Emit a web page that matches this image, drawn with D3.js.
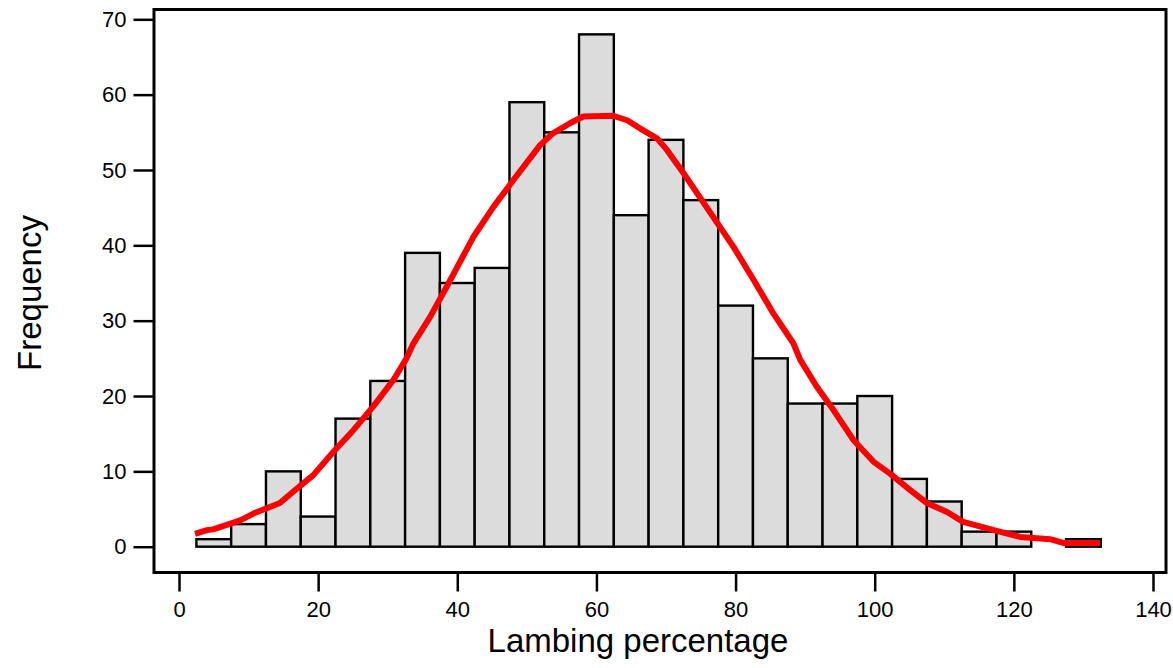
<!DOCTYPE html>
<html>
<head>
<meta charset="utf-8">
<script src="https://cdn.jsdelivr.net/npm/d3@7"></script>
<style>
    body { margin: 0; background: #fff; }
    svg { display: block; font-family: Arial, "Liberation Sans", sans-serif; }
    .axis text { font-size: 22px; fill: #000; }
    .axis line { stroke: #000; stroke-width: 2.5px; }
    .axis .domain { display: none; }
    .bar { fill: #dcdcdc; stroke: #000; stroke-width: 2.4px; }
    .fit { fill: none; stroke: #ff0000; stroke-width: 6px; stroke-linejoin: round; }
    .frame { fill: none; stroke: #000; stroke-width: 3px; }
    .title { font-size: 33px; fill: #000; }
</style>
</head>
<body>
<div id="chart"></div>
<script>
// histogram bins (centres, width 5)
const binCentres = [5, 10, 15, 20, 25, 30, 35, 40, 45, 50, 55, 60, 65,
    70, 75, 80, 85, 90, 95, 100, 105, 110, 115, 120, 125, 130];
const frequencies = [1, 3, 10, 4, 17, 22, 39, 35, 37, 59, 55, 68, 44,
    54, 46, 32, 25, 19, 19, 20, 9, 6, 2, 2, 0, 1];
const binWidth = 5;

// fitted curve
const curveX = [2.3, 4.0, 4.9, 8.8, 10.7, 12.6, 14.5, 16.4, 19.3, 22.2, 25.1, 27.9,
    30.8, 32.7, 33.7, 36.1, 39.0, 42.3, 45.2, 48.1, 51.9, 53.8, 56.2, 58.1,
    62.4, 64.4, 66.3, 68.7, 70.1, 72.5, 75.8, 79.7, 82.6, 85.4, 88.3, 89.3,
    91.7, 94.1, 96.9, 99.8, 102.2, 105.1, 107.5, 110.4, 112.7, 117.1, 120.9,
    125.2, 127.1, 132.4];
const curveY = [1.7, 2.2, 2.3, 3.5, 4.4, 5.1, 5.8, 7.3, 9.5, 12.6, 15.5, 18.6,
    22.1, 25.0, 27.0, 30.5, 35.4, 41.1, 45.1, 48.7, 53.3, 54.9, 56.2, 57.1,
    57.2, 56.6, 55.5, 54.2, 52.7, 49.6, 45.1, 39.8, 35.4, 31.0, 27.0, 24.8,
    21.2, 18.1, 14.2, 11.3, 9.7, 7.5, 5.8, 4.6, 3.3, 2.2, 1.3,
    1.0, 0.5, 0.5];

const xTicks = [0, 20, 40, 60, 80, 100, 120, 140];
const yTicks = [0, 10, 20, 30, 40, 50, 60, 70];

const width = 1173;
const height = 668;

const frame = { left: 154, top: 9.5, right: 1166, bottom: 572.5 };

const svg = d3.select('#chart').append('svg')
    .attr('width', width)
    .attr('height', height);

const x = d3.scaleLinear()
    .domain([0, 140])
    .range([179, 1153]);

const y = d3.scaleLinear()
    .domain([0, 70])
    .range([546.7, 19.3]);

// bars
svg.append('g')
    .selectAll('rect')
    .data(binCentres.map((c, i) => ({ c: c, v: frequencies[i] })))
    .enter()
    .append('rect')
    .attr('class', 'bar')
    .attr('x', d => x(d.c - binWidth / 2))
    .attr('width', x(binWidth) - x(0))
    .attr('y', d => y(d.v))
    .attr('height', d => y(0) - y(d.v));

// fitted line
const line = d3.line()
    .x(d => x(d[0]))
    .y(d => y(d[1]));

svg.append('path')
    .attr('class', 'fit')
    .attr('d', line(curveX.map((v, i) => [v, curveY[i]])));

// frame
svg.append('rect')
    .attr('class', 'frame')
    .attr('x', frame.left)
    .attr('y', frame.top)
    .attr('width', frame.right - frame.left)
    .attr('height', frame.bottom - frame.top);

// axes, ticks outside the frame
svg.append('g')
    .attr('class', 'x axis')
    .attr('transform', `translate(0, ${frame.bottom})`)
    .call(d3.axisBottom(x).tickValues(xTicks).tickSize(19).tickPadding(10));

svg.append('g')
    .attr('class', 'y axis')
    .attr('transform', `translate(${frame.left - 0.5}, 0)`)
    .call(d3.axisLeft(y).tickValues(yTicks).tickSize(20).tickPadding(7));

svg.append('text')
    .attr('class', 'title')
    .attr('text-anchor', 'middle')
    .attr('x', 638)
    .attr('y', 652)
    .text('Lambing percentage');

svg.append('text')
    .attr('class', 'title')
    .attr('text-anchor', 'middle')
    .attr('transform', 'translate(41, 293) rotate(-90)')
    .text('Frequency');
</script>
</body>
</html>
